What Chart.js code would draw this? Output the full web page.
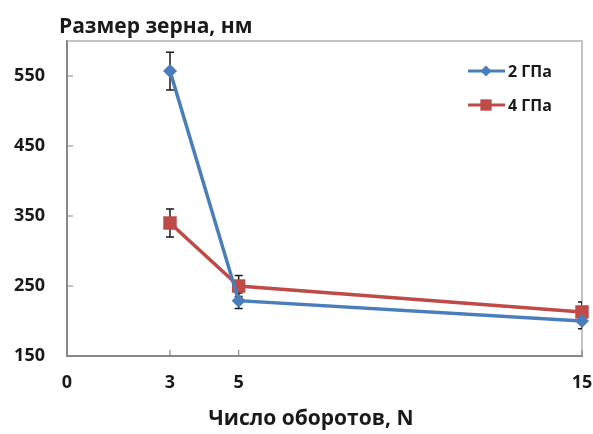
<!DOCTYPE html>
<html>
<head>
<meta charset="utf-8">
<script src="https://cdn.jsdelivr.net/npm/chart.js@4/dist/chart.umd.min.js"></script>
<style>
  html, body { margin: 0; padding: 0; background: #fff; }
  #wrap { width: 593px; height: 434px; }
</style>
</head>
<body>
<div id="wrap"><canvas id="grainChart" width="593" height="434"></canvas></div>
<script>
// revolutions N and grain size (nm) for each pressure
const turns = [3, 5, 15];
const size2GPa = [557, 229, 200];
const size4GPa = [340, 250, 213];
const err2GPa = [27, 11, 11];
const err4GPa = [20, 15, 14];
const seriesNames = ['2 ГПа', '4 ГПа'];
const xTicks = [0, 3, 5, 15];
const yTicks = [150, 250, 350, 450, 550];

const titleText = 'Размер зерна, нм';
const xTitleText = 'Число оборотов, N';

const FONT = "'Open Sans', 'DejaVu Sans', sans-serif";
const BLUE = '#4A7EBB';
const RED = '#BE4B48';
const AXIS = '#878787';

function pts(vals) {
  return turns.map((t, i) => ({ x: t, y: vals[i] }));
}

// vertical error bars with caps, clipped to the plot box
const errorBars = {
  id: 'errorBars',
  beforeDatasetsDraw(chart) {
    const { ctx, chartArea: a, scales: { x, y } } = chart;
    ctx.save();
    ctx.beginPath();
    ctx.rect(a.left, a.top, a.right - a.left, a.bottom - a.top);
    ctx.clip();
    ctx.strokeStyle = '#1a1a1a';
    ctx.lineWidth = 1.5;
    chart.data.datasets.forEach(ds => {
      ds.data.forEach((p, i) => {
        const e = ds.errors[i];
        const px = x.getPixelForValue(p.x);
        const top = y.getPixelForValue(p.y + e);
        const bot = y.getPixelForValue(p.y - e);
        ctx.beginPath();
        ctx.moveTo(px, top); ctx.lineTo(px, bot);
        ctx.moveTo(px - 4, top); ctx.lineTo(px + 4, top);
        ctx.moveTo(px - 4, bot); ctx.lineTo(px + 4, bot);
        ctx.stroke();
      });
    });
    ctx.restore();
  }
};

// plot frame, inward tick marks, titles and the legend
const decor = {
  id: 'decor',
  beforeDatasetsDraw(chart) {
    const { ctx, chartArea: a, scales: { x, y } } = chart;
    ctx.save();
    ctx.strokeStyle = '#b0b0b0';
    ctx.lineWidth = 1.5;
    ctx.beginPath();
    ctx.moveTo(a.left, a.top); ctx.lineTo(a.right, a.top); ctx.lineTo(a.right, a.bottom);
    ctx.stroke();
    ctx.strokeStyle = AXIS;
    ctx.lineWidth = 1.2;
    ctx.beginPath();
    xTicks.forEach(v => {
      const px = x.getPixelForValue(v);
      ctx.moveTo(px, a.bottom); ctx.lineTo(px, a.bottom - 6);
    });
    yTicks.forEach(v => {
      const py = y.getPixelForValue(v);
      ctx.moveTo(a.left, py); ctx.lineTo(a.left + 6, py);
    });
    ctx.stroke();
    ctx.restore();
  },
  afterDraw(chart) {
    const { ctx } = chart;
    ctx.save();
    ctx.fillStyle = '#1a1a1a';
    ctx.font = 'bold 21px ' + FONT;
    ctx.textBaseline = 'middle';
    ctx.textAlign = 'left';
    ctx.fillText(titleText, 59, 27);
    ctx.textAlign = 'center';
    ctx.fillText(xTitleText, 311, 419);

    ctx.font = 'bold 16px ' + FONT;
    ctx.textAlign = 'left';
    chart.data.datasets.forEach((ds, i) => {
      const ly = 71 + i * 34;
      ctx.strokeStyle = ds.borderColor;
      ctx.lineWidth = 3;
      ctx.beginPath();
      ctx.moveTo(468, ly); ctx.lineTo(505, ly);
      ctx.stroke();
      ctx.fillStyle = ds.backgroundColor;
      Chart.helpers.drawPoint(ctx, {
        pointStyle: ds.pointStyle,
        radius: ds.pointRadius - 1.5,
        borderWidth: 0,
        rotation: 0
      }, 486, ly);
      ctx.fillStyle = '#1a1a1a';
      ctx.fillText(ds.label, 508, ly + 1);
    });
    ctx.restore();
  }
};

new Chart(document.getElementById('grainChart'), {
  type: 'line',
  data: {
    datasets: [
      {
        label: seriesNames[0],
        data: pts(size2GPa),
        errors: err2GPa,
        borderColor: BLUE,
        backgroundColor: BLUE,
        borderWidth: 3.5,
        pointStyle: 'rectRot',
        pointRadius: 7,
        pointBorderWidth: 0,
        clip: false
      },
      {
        label: seriesNames[1],
        data: pts(size4GPa),
        errors: err4GPa,
        borderColor: RED,
        backgroundColor: RED,
        borderWidth: 3.5,
        pointStyle: 'rect',
        pointRadius: 9.5,
        pointBorderWidth: 0,
        clip: false
      }
    ]
  },
  options: {
    responsive: false,
    animation: false,
    events: [],
    layout: { padding: { top: 41, right: 11, left: 0, bottom: 0 } },
    plugins: { legend: { display: false }, title: { display: false }, tooltip: { enabled: false } },
    scales: {
      x: {
        type: 'linear',
        min: 0,
        max: 15,
        afterBuildTicks: s => { s.ticks = xTicks.map(v => ({ value: v })); },
        afterFit: s => { s.height = 78; s.paddingLeft = 0; s.paddingRight = 0; },
        grid: { display: false, drawTicks: false },
        border: { color: AXIS, width: 2 },
        ticks: {
          padding: 16,
          maxRotation: 0,
          color: '#1a1a1a',
          font: { family: FONT, size: 18, weight: 'bold' }
        }
      },
      y: {
        min: 150,
        max: 600,
        afterBuildTicks: s => { s.ticks = yTicks.map(v => ({ value: v })); },
        afterFit: s => { s.width = 67; s.paddingTop = 0; s.paddingBottom = 0; },
        grid: { display: false, drawTicks: false },
        border: { color: AXIS, width: 2 },
        ticks: {
          padding: 22,
          color: '#1a1a1a',
          font: { family: FONT, size: 18, weight: 'bold' }
        }
      }
    }
  },
  plugins: [decor, errorBars]
});
</script>
</body>
</html>
